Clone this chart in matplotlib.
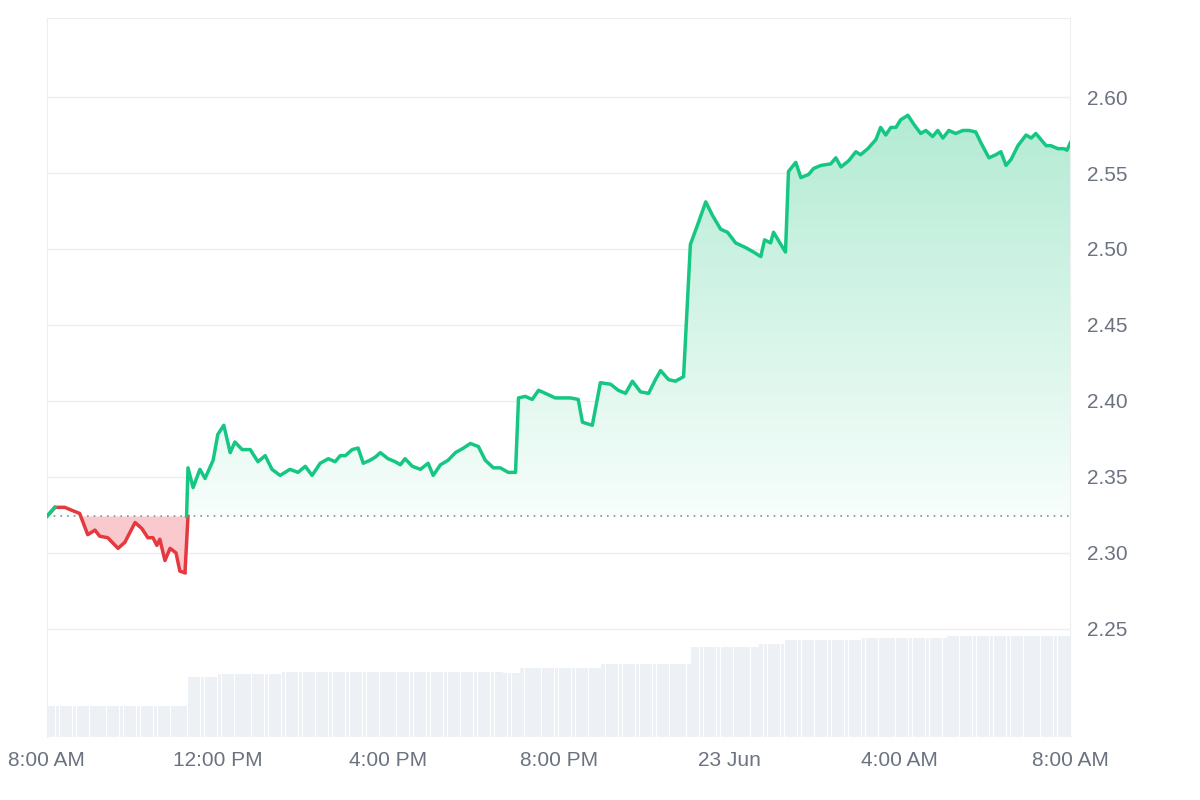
import numpy as np
import matplotlib
matplotlib.use("Agg")
import matplotlib.pyplot as plt
from matplotlib.patches import Polygon

plt.rcParams['font.family'] = ['Liberation Sans', 'DejaVu Sans']

hours = [0.00,0.19,0.42,0.59,0.77,0.96,1.13,1.24,1.43,1.67,1.83,2.07,2.23,2.37,2.49,2.58,2.65,2.77,2.89,3.03,3.12,3.24,3.31,3.43,3.59,3.71,3.90,4.01,4.15,4.30,4.41,4.58,4.77,4.95,5.12,5.28,5.47,5.70,5.89,6.06,6.22,6.41,6.60,6.76,6.88,7.00,7.16,7.30,7.42,7.58,7.70,7.82,8.00,8.17,8.29,8.40,8.57,8.76,8.94,9.06,9.23,9.41,9.58,9.77,9.93,10.12,10.28,10.47,10.63,10.82,10.99,11.06,11.22,11.38,11.53,11.69,11.92,12.28,12.46,12.56,12.79,12.98,13.22,13.40,13.57,13.73,13.92,14.11,14.27,14.39,14.58,14.74,14.93,15.09,15.26,15.45,15.61,15.80,15.96,16.15,16.38,16.57,16.74,16.83,16.97,17.04,17.21,17.32,17.39,17.56,17.68,17.86,17.98,18.15,18.38,18.50,18.62,18.80,18.97,19.08,19.25,19.44,19.55,19.67,19.79,19.91,20.02,20.19,20.33,20.49,20.61,20.77,20.89,21.01,21.15,21.31,21.48,21.62,21.78,21.90,22.09,22.25,22.37,22.49,22.61,22.77,22.96,23.08,23.19,23.31,23.43,23.54,23.71,23.85,23.92,24.00]
prices = [2.324,2.330,2.330,2.328,2.326,2.312,2.315,2.311,2.310,2.303,2.307,2.320,2.316,2.310,2.310,2.305,2.309,2.295,2.303,2.300,2.288,2.287,2.356,2.343,2.355,2.349,2.361,2.378,2.384,2.366,2.373,2.368,2.368,2.360,2.364,2.355,2.351,2.355,2.353,2.357,2.351,2.359,2.362,2.360,2.364,2.364,2.368,2.369,2.359,2.361,2.363,2.366,2.362,2.360,2.358,2.362,2.357,2.355,2.359,2.351,2.358,2.361,2.366,2.369,2.372,2.370,2.361,2.356,2.356,2.353,2.353,2.402,2.403,2.401,2.407,2.405,2.402,2.402,2.401,2.386,2.384,2.412,2.411,2.407,2.405,2.413,2.406,2.405,2.414,2.420,2.414,2.413,2.416,2.503,2.516,2.531,2.522,2.513,2.511,2.504,2.501,2.498,2.495,2.506,2.504,2.511,2.503,2.498,2.551,2.557,2.547,2.549,2.553,2.555,2.556,2.560,2.554,2.558,2.564,2.562,2.566,2.572,2.580,2.575,2.580,2.580,2.585,2.588,2.582,2.576,2.578,2.574,2.578,2.573,2.578,2.576,2.578,2.578,2.577,2.570,2.560,2.562,2.564,2.555,2.559,2.568,2.575,2.573,2.576,2.572,2.568,2.568,2.566,2.566,2.565,2.570]
baseline = 2.324

# volume step levels (start hour, level)
vol_starts = [0.0, 3.3, 4.0, 5.5, 10.7, 11.1, 13.0, 15.1, 16.7, 17.3, 19.1, 21.1]
vol_levels = [31, 60, 63, 65, 64, 69, 73, 90, 93, 97, 99, 101]

x_ticks = [0, 4, 8, 12, 16, 20, 24]
x_labels = ["8:00 AM", "12:00 PM", "4:00 PM", "8:00 PM", "23 Jun", "4:00 AM", "8:00 AM"]
y_ticks = [2.25, 2.30, 2.35, 2.40, 2.45, 2.50, 2.55, 2.60]

fig = plt.figure(figsize=(12, 8), dpi=100)
ax = fig.add_axes([0.039, 0.079, 0.853, 0.8985])
ax2 = ax.twinx()
ax.set_zorder(2); ax.patch.set_visible(False)
ax2.set_zorder(1)

bx = np.arange(0.05, 24.0, 0.1)
bh = np.array([vol_levels[np.searchsorted(vol_starts, b, side="right") - 1] for b in bx])
ax2.bar(bx, bh, width=0.09, color="#edf0f4", edgecolor="none")
ax2.set_ylim(0, 719)
ax2.set_yticks([])
for s in ax2.spines.values():
    s.set_visible(False)

h = np.array(hours); p = np.array(prices)
xmin, xmax = 0, 24.0
ymin, ymax = 2.179, 2.652
ax.set_xlim(xmin, xmax); ax.set_ylim(ymin, ymax)

ax.fill_between(h, p, baseline, where=p <= baseline, interpolate=True, color="#f9c9cd", lw=0)
verts = [(h[0], baseline)] + [(x, max(y, baseline)) for x, y in zip(h, p)] + [(h[-1], baseline)]
poly = Polygon(verts, closed=True, facecolor="none", edgecolor="none")
ax.add_patch(poly)
grad = np.linspace(0, 1, 256).reshape(-1, 1)
top_c = np.array([0.70, 0.92, 0.83]); bot_c = np.array([0.97, 0.995, 0.985])
img = bot_c + (top_c - bot_c) * grad
img = img[:, None, :].repeat(2, axis=1)
im = ax.imshow(img, extent=[xmin, xmax, baseline, 2.59], origin="lower", aspect="auto", zorder=1)
im.set_clip_path(poly)

ax.plot(h[:22], p[:22], color="#e5383f", lw=2.5, zorder=4, solid_capstyle="round")
ax.plot([h[21], h[22]], [p[21], baseline], color="#e5383f", lw=2.5, zorder=4)
ax.plot([h[21] + (h[22]-h[21])*(baseline-p[21])/(p[22]-p[21])] + list(h[22:]),
        [baseline] + list(p[22:]), color="#16c784", lw=2.5, zorder=5)
ax.plot(h[:2], p[:2], color="#16c784", lw=2.5, zorder=5)
ax.axhline(baseline, color="#8a8f98", lw=1.2, ls=(0, (1, 3)), zorder=3)

ax.yaxis.tick_right()
ax.set_yticks(y_ticks)
ax.set_yticklabels([f"{v:.2f}" for v in y_ticks])
ax.set_xticks(x_ticks)
ax.set_xticklabels(x_labels)
ax.tick_params(axis="both", length=0, labelsize=15, colors="#6b7280", pad=10)
ax.tick_params(axis="y", pad=12)
ax.grid(axis="y", color="#eceef1", lw=1)
ax.set_axisbelow(True)
for k in ["left", "right", "top"]:
    ax.spines[k].set_color("#eceef1")
ax.spines["bottom"].set_visible(False)

fig.savefig("out.png", dpi=100, facecolor="white")
